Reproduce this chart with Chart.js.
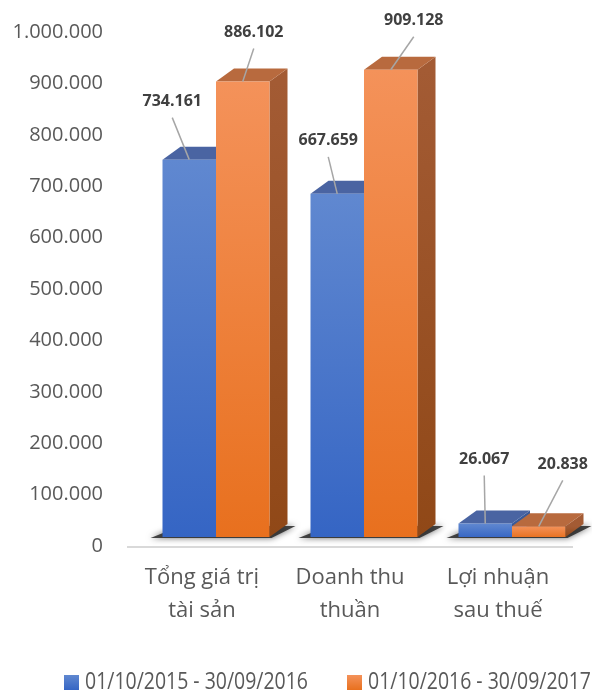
<!DOCTYPE html>
<html>
<head>
<meta charset="utf-8">
<style>
  body { margin: 0; background: #fff; }
  .chart { width: 592px; height: 693px; }
</style>
</head>
<body>
<div class="chart"><canvas id="myChart" width="592" height="693"></canvas></div>
<script src="https://cdn.jsdelivr.net/npm/chart.js@4/dist/chart.umd.min.js"></script>
<script>
  // data
  const categories = [['Tổng giá trị', 'tài sản'], ['Doanh thu', 'thuần'], ['Lợi nhuận', 'sau thuế']];
  const seriesNames = ['01/10/2015 - 30/09/2016', '01/10/2016 - 30/09/2017'];
  const values2016 = [734161, 667659, 26067];
  const values2017 = [886102, 909128, 20838];
  const yMin = 0;
  const yMax = 1000000;
  const yStep = 100000;

  const FONT = "'Open Sans', 'Noto Sans', sans-serif";
  const TEXT = '#595959';
  const DX = 18, DY = -13; // 3d depth

  const palette = [
    { top: '#6088d0', bottom: '#3565c4', lid: '#4a64a2', side: ['#3b5a98', '#2b4a88'] },
    { top: '#f4925a', bottom: '#e8701e', lid: '#b86a3e', side: ['#a35b34', '#904817'] },
  ];

  // where each value label sits, relative to the top centre of its bar
  const labelOffsets = [
    [[-17, -58], [-9, -53], [-1, -64]],
    [[11, -49], [23, -49], [24, -62]],
  ];

  function fmt(n) {
    return String(n).replace(/\B(?=(\d{3})+(?!\d))/g, '.');
  }

  function frontColor(c, d) {
    const chart = c.chart;
    if (c.type !== 'data' || !chart.chartArea) return palette[d].bottom;
    const ys = chart.scales.y;
    const top = ys.getPixelForValue(c.raw);
    const bottom = ys.getPixelForValue(0);
    const g = chart.ctx.createLinearGradient(0, top, 0, bottom + 1);
    g.addColorStop(0, palette[d].top);
    g.addColorStop(1, palette[d].bottom);
    return g;
  }

  function poly(ctx, pts) {
    ctx.beginPath();
    ctx.moveTo(pts[0][0], pts[0][1]);
    for (let i = 1; i < pts.length; i++) ctx.lineTo(pts[i][0], pts[i][1]);
    ctx.closePath();
    ctx.fill();
  }

  const box3d = {
    id: 'box3d',
    beforeDatasetsDraw(chart) {
      const ctx = chart.ctx;
      const area = chart.chartArea;
      const y0 = chart.scales.y.getPixelForValue(0);
      ctx.save();

      // floor line
      ctx.strokeStyle = '#d9d9d9';
      ctx.lineWidth = 2;
      ctx.beginPath();
      ctx.moveTo(area.left - 15, y0 + 10);
      ctx.lineTo(area.right - 13, y0 + 10);
      ctx.stroke();

      // soft shadow under every group
      const m0 = chart.getDatasetMeta(0), m1 = chart.getDatasetMeta(1);
      m0.data.forEach((a, i) => {
        const b = m1.data[i];
        const left = a.x - a.width / 2, right = b.x + b.width / 2, bottom = a.base;
        ctx.save();
        ctx.shadowColor = 'rgba(0,0,0,0.7)';
        ctx.shadowBlur = 6;
        ctx.fillStyle = 'rgba(40,40,40,0.85)';
        poly(ctx, [[left - 12, bottom + 1], [right + 2, bottom + 1], [right + DX + 8, bottom + DY + 2], [left + DX, bottom + DY + 2]]);
        ctx.restore();
      });

      // side and lid faces
      chart.data.datasets.forEach((ds, d) => {
        chart.getDatasetMeta(d).data.forEach(bar => {
          const left = bar.x - bar.width / 2, right = bar.x + bar.width / 2;
          const top = bar.y, bottom = bar.base;
          const g = ctx.createLinearGradient(0, top, 0, bottom);
          g.addColorStop(0, palette[d].side[0]);
          g.addColorStop(1, palette[d].side[1]);
          ctx.fillStyle = g;
          poly(ctx, [[right, top], [right + DX, top + DY], [right + DX, bottom + DY], [right, bottom]]);
          ctx.fillStyle = palette[d].lid;
          poly(ctx, [[left, top], [right, top], [right + DX, top + DY], [left + DX, top + DY]]);
        });
      });
      ctx.restore();
    },
    afterDatasetsDraw(chart) {
      const ctx = chart.ctx;
      ctx.save();
      chart.data.datasets.forEach((ds, d) => {
        chart.getDatasetMeta(d).data.forEach((bar, i) => {
          const [ox, oy] = labelOffsets[d][i];
          ctx.strokeStyle = '#a6a6a6';
          ctx.lineWidth = 1.5;
          ctx.beginPath();
          ctx.moveTo(bar.x + ox, bar.y + oy + 16);
          ctx.lineTo(bar.x, bar.y);
          ctx.stroke();
          ctx.fillStyle = '#404040';
          ctx.font = 'bold 16px ' + FONT;
          ctx.textAlign = 'center';
          ctx.textBaseline = 'middle';
          ctx.fillText(fmt(ds.data[i]), bar.x + ox, bar.y + oy);
        });
      });
      ctx.restore();
    },
    afterDraw(chart) {
      // legend, drawn by hand so it can run off the right edge like the original
      const ctx = chart.ctx;
      const boxX = [64, 347];
      ctx.save();
      seriesNames.forEach((name, d) => {
        const g = ctx.createLinearGradient(0, 675, 0, 690);
        g.addColorStop(0, palette[d].top);
        g.addColorStop(1, palette[d].bottom);
        ctx.fillStyle = g;
        ctx.fillRect(boxX[d], 675, 15, 15);
        ctx.fillStyle = TEXT;
        ctx.font = '23px ' + FONT;
        ctx.textAlign = 'left';
        ctx.textBaseline = 'middle';
        ctx.fillText(name, boxX[d] + 21, 682, 223);
      });
      ctx.restore();
    },
  };

  const ctx = document.getElementById('myChart').getContext('2d');
  const myChart = new Chart(ctx, {
    type: 'bar',
    data: {
      labels: categories,
      datasets: [
        { label: seriesNames[0], data: values2016, backgroundColor: c => frontColor(c, 0) },
        { label: seriesNames[1], data: values2017, backgroundColor: c => frontColor(c, 1) },
      ],
    },
    options: {
      responsive: false,
      animation: false,
      categoryPercentage: 0.723,
      barPercentage: 1,
      layout: { padding: { top: 23, right: 6, left: 0, bottom: 0 } },
      plugins: {
        legend: { display: false },
        tooltip: { enabled: false },
      },
      scales: {
        x: {
          grid: { display: false, drawTicks: false },
          border: { display: false },
          afterFit: s => { s.height = 156; },
          ticks: {
            padding: 24,
            labelOffset: -14,
            maxRotation: 0,
            autoSkip: false,
            color: TEXT,
            font: { family: FONT, size: 22, lineHeight: 1.5 },
          },
        },
        y: {
          min: yMin,
          max: yMax,
          grid: { display: false, drawTicks: false },
          border: { display: false },
          afterFit: s => { s.width = 142; s.paddingTop = 0; s.paddingBottom = 0; },
          ticks: {
            stepSize: yStep,
            padding: 39,
            labelOffset: 9,
            color: TEXT,
            font: { family: FONT, size: 20 },
            callback: v => fmt(v),
          },
        },
      },
    },
    plugins: [box3d],
  });
</script>
</body>
</html>
